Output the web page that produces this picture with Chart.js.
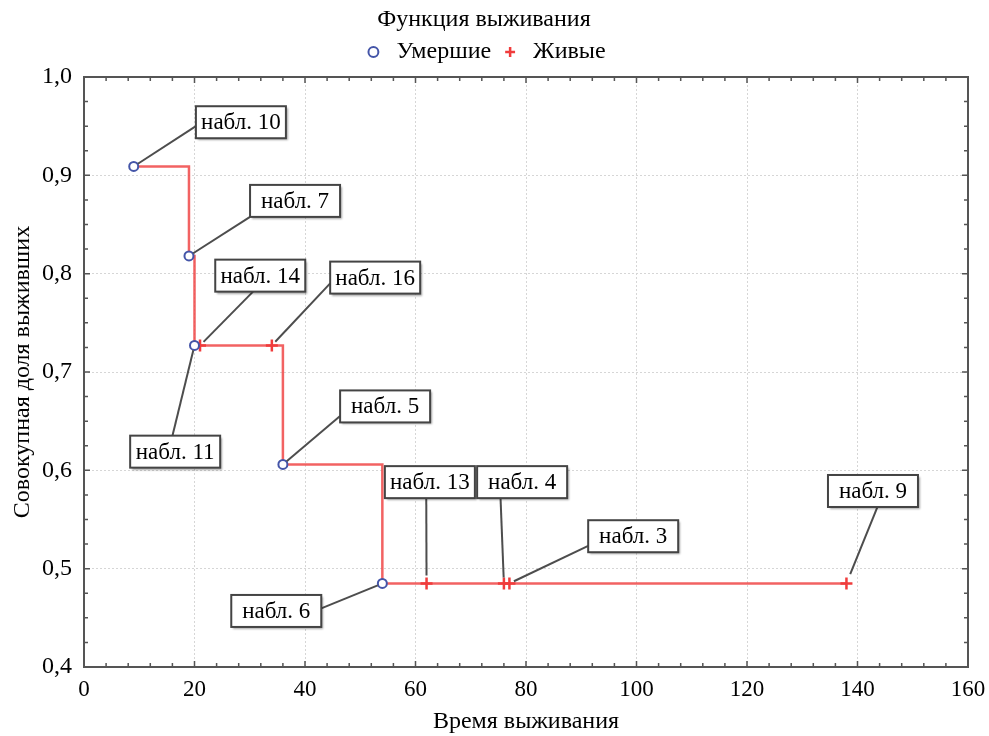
<!DOCTYPE html>
<html>
<head>
<meta charset="utf-8">
<script src="https://cdn.jsdelivr.net/npm/chart.js@4"></script>
<style>
  html, body { margin: 0; padding: 0; background: #fff; }
  #wrap { width: 989px; height: 736px; }
</style>
</head>
<body>
<div id="wrap"><canvas id="chart"></canvas></div>
<script>
// данные: умершие (полные наблюдения) и живые (цензурированные)
const diedTime = [9, 19, 20, 36, 54];
const diedSurv = [0.909, 0.818, 0.727, 0.606, 0.485];
const diedCase = [10, 7, 11, 5, 6];

const aliveTime = [21, 34, 62, 76, 77, 138];
const aliveSurv = [0.727, 0.727, 0.485, 0.485, 0.485, 0.485];
const aliveCase = [14, 16, 13, 4, 3, 9];

// ступенчатая кривая Каплана-Мейера
const curveTime = [9, 19, 20, 36, 54, 138];
const curveSurv = [0.909, 0.818, 0.727, 0.606, 0.485, 0.485];

const xTickStep = 20, xMinorStep = 4;
const yTickStep = 0.1, yMinorStep = 0.025;

// где стоят подписи "набл. N" (центр рамки в единицах осей, точка крепления выноски)
const labelPlace = {
  10: { x: 28.4, y: 0.954, ax: 0, ay: 0.62 },
  7:  { x: 38.2, y: 0.874, ax: 0, ay: 1 },
  14: { x: 31.9, y: 0.798, ax: 0.42, ay: 1 },
  16: { x: 52.7, y: 0.796, ax: 0, ay: 0.68 },
  11: { x: 16.5, y: 0.619, ax: 0.47, ay: 0 },
  5:  { x: 54.5, y: 0.665, ax: 0, ay: 0.8 },
  6:  { x: 34.8, y: 0.457, ax: 1, ay: 0.42 },
  13: { x: 62.6, y: 0.588, ax: 0.46, ay: 1, gap: 8 },
  4:  { x: 79.3, y: 0.588, ax: 0.26, ay: 1, gap: 6 },
  3:  { x: 99.4, y: 0.533, ax: 0, ay: 0.8 },
  9:  { x: 142.8, y: 0.579, ax: 0.55, ay: 1, gap: 10 }
};

const FONT = '"Liberation Serif", "Times New Roman", serif';

const caseLabels = {
  id: 'caseLabels',
  afterDatasetsDraw(chart) {
    const { ctx, scales: { x, y } } = chart;
    const pts = [];
    diedCase.forEach((c, i) => pts.push({ c, t: diedTime[i], s: diedSurv[i] }));
    aliveCase.forEach((c, i) => pts.push({ c, t: aliveTime[i], s: aliveSurv[i] }));
    ctx.save();
    ctx.font = '23px ' + FONT;
    pts.forEach(p => {
      const pl = labelPlace[p.c];
      const px = x.getPixelForValue(p.t), py = y.getPixelForValue(p.s);
      const w = 90, h = 32;
      const bx = x.getPixelForValue(pl.x) - w / 2;
      const by = y.getPixelForValue(pl.y) - h / 2;
      const ex = bx + pl.ax * w, ey = by + pl.ay * h;
      const dx = ex - px, dy = ey - py, d = Math.hypot(dx, dy);
      const g = pl.gap || 5;
      ctx.strokeStyle = '#4d4d4d';
      ctx.lineWidth = 2;
      ctx.beginPath();
      ctx.moveTo(px + dx / d * g, py + dy / d * g);
      ctx.lineTo(ex, ey);
      ctx.stroke();
      // рамка с тенью
      ctx.save();
      ctx.shadowColor = 'rgba(0,0,0,0.35)';
      ctx.shadowOffsetX = 2;
      ctx.shadowOffsetY = 2;
      ctx.shadowBlur = 2;
      ctx.fillStyle = '#fff';
      ctx.fillRect(bx, by, w, h);
      ctx.restore();
      ctx.strokeStyle = '#444';
      ctx.strokeRect(bx, by, w, h);
      ctx.fillStyle = '#000';
      ctx.textAlign = 'center';
      ctx.textBaseline = 'middle';
      ctx.fillText('набл. ' + p.c, bx + w / 2, by + h / 2 + 1);
    });
    ctx.restore();
  }
};

const frameTicks = {
  id: 'frameTicks',
  afterDraw(chart) {
    const { ctx, chartArea: { left, right, top, bottom }, scales: { x, y } } = chart;
    ctx.save();
    ctx.strokeStyle = '#555';
    ctx.lineWidth = 2;
    ctx.strokeRect(left, top, right - left, bottom - top);
    ctx.lineWidth = 1.5;
    ctx.beginPath();
    for (let v = x.min; v <= x.max + 1e-9; v += xMinorStep) {
      const px = x.getPixelForValue(v);
      const len = Math.abs(v % xTickStep) < 1e-9 ? 6 : 4;
      ctx.moveTo(px, bottom); ctx.lineTo(px, bottom - len);
      ctx.moveTo(px, top); ctx.lineTo(px, top + len);
    }
    const n = Math.round((y.max - y.min) / yMinorStep);
    for (let k = 0; k <= n; k++) {
      const py = y.getPixelForValue(y.min + k * yMinorStep);
      const len = k % 4 === 0 ? 6 : 4;
      ctx.moveTo(left, py); ctx.lineTo(left + len, py);
      ctx.moveTo(right, py); ctx.lineTo(right - len, py);
    }
    ctx.stroke();
    ctx.restore();
  }
};

const ctx = document.getElementById('chart').getContext('2d');
new Chart(ctx, {
  data: {
    datasets: [
      {
        type: 'line',
        label: 'curve',
        xAxisID: 'x',
        yAxisID: 'y',
        data: curveTime.map((t, i) => ({ x: t, y: curveSurv[i] })),
        stepped: 'before',
        borderColor: 'rgba(240,70,70,0.85)',
        borderWidth: 2.5,
        pointRadius: 0,
        fill: false,
        order: 3
      },
      {
        type: 'scatter',
        label: 'Умершие',
        xAxisID: 'x',
        yAxisID: 'y',
        data: diedTime.map((t, i) => ({ x: t, y: diedSurv[i] })),
        pointStyle: 'circle',
        pointRadius: 4.5,
        pointBorderWidth: 2,
        pointBackgroundColor: '#fff',
        pointBorderColor: '#4455a8',
        backgroundColor: '#fff',
        borderColor: '#4455a8',
        order: 1
      },
      {
        type: 'scatter',
        label: 'Живые',
        xAxisID: 'x',
        yAxisID: 'y',
        data: aliveTime.map((t, i) => ({ x: t, y: aliveSurv[i] })),
        pointStyle: 'cross',
        pointRadius: 6,
        pointBorderWidth: 2.5,
        pointBorderColor: '#f03c3c',
        pointBackgroundColor: '#f03c3c',
        backgroundColor: '#f03c3c',
        borderColor: '#f03c3c',
        order: 2
      }
    ]
  },
  options: {
    responsive: true,
    maintainAspectRatio: false,
    animation: false,
    layout: { padding: { left: 0, right: 21, top: 0, bottom: 0 } },
    plugins: {
      tooltip: { enabled: false },
      title: {
        display: true,
        text: 'Функция выживания',
        color: '#000',
        font: { family: FONT, size: 24, weight: 'normal', lineHeight: 1 },
        padding: { top: 8, bottom: 0 }
      },
      legend: {
        display: true,
        labels: {
          usePointStyle: true,
          boxWidth: 22,
          boxHeight: 7,
          padding: 8,
          color: '#000',
          font: { family: FONT, size: 24 },
          filter: item => item.text !== 'curve'
        }
      }
    },
    scales: {
      x: {
        type: 'linear',
        min: 0,
        max: 160,
        afterFit: s => { s.height = 69; s.paddingLeft = 0; s.paddingRight = 0; },
        ticks: {
          stepSize: xTickStep,
          color: '#000',
          padding: 9,
          font: { family: FONT, size: 23 }
        },
        grid: { color: '#d6d6d6', lineWidth: 1, drawTicks: false },
        border: { display: false, dash: [2, 2] },
        title: {
          display: true,
          text: 'Время выживания',
          color: '#000',
          font: { family: FONT, size: 24 },
          padding: { top: 0, bottom: 0 }
        }
      },
      // пустая полоса между легендой и графиком
      gap: {
        type: 'linear',
        position: 'top',
        min: 0,
        max: 1,
        display: true,
        afterFit: s => { s.height = 3; },
        ticks: { display: false },
        grid: { display: false },
        border: { display: false }
      },
      y: {
        type: 'linear',
        min: 0.4,
        max: 1.0,
        afterFit: s => { s.width = 84; },
        ticks: {
          stepSize: yTickStep,
          color: '#000',
          padding: 12,
          font: { family: FONT, size: 24 },
          callback: v => v.toFixed(1).replace('.', ',')
        },
        grid: { color: '#d6d6d6', lineWidth: 1, drawTicks: false },
        border: { display: false, dash: [2, 2] },
        title: {
          display: true,
          text: 'Совокупная доля выживших',
          color: '#000',
          font: { family: FONT, size: 24 },
          padding: { top: 8, bottom: 0 }
        }
      }
    }
  },
  plugins: [caseLabels, frameTicks]
});
</script>
</body>
</html>
